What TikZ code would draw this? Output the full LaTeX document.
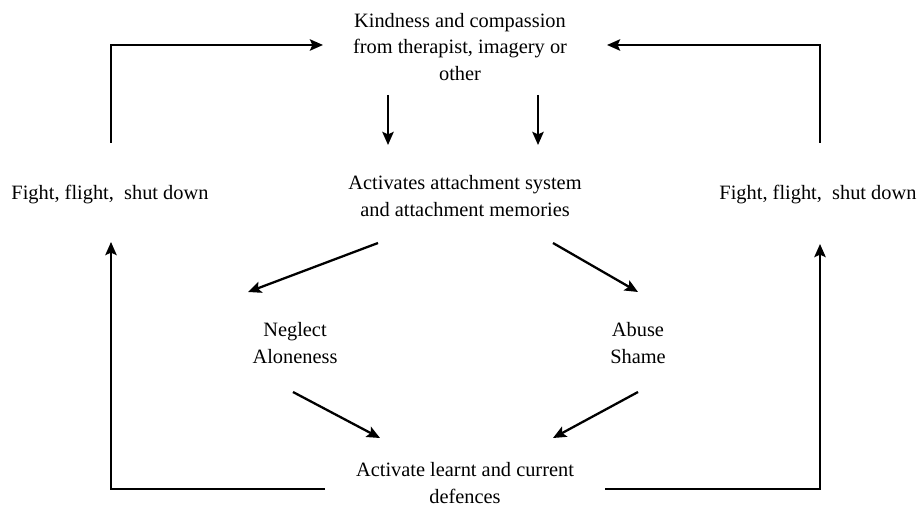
\documentclass[tikz,border=0pt]{standalone}
\usepackage{fontspec}
\setmainfont{Liberation Serif}
\usetikzlibrary{arrows.meta}
\tikzset{
  txt/.style={align=center, inner sep=0pt, font=\fontsize{11.6}{15.2}\selectfont},
  arr/.style={line width=1.3pt, -{Stealth[length=7.5pt, width=6.5pt, inset=1.5pt]}}
}
\begin{document}
\begin{tikzpicture}[x=0.02cm, y=-0.02cm]
\useasboundingbox (0,0) rectangle (920,513);
% Texts
\node[txt] (kind) at (460,47) {Kindness and compassion\\from therapist, imagery or\\other};
\node[txt] (act) at (465,196) {Activates attachment system\\and attachment memories};
\node[txt] (ffl) at (110,195) {Fight, flight,\ \ shut down};
\node[txt] (ffr) at (818,195) {Fight, flight,\ \ shut down};
\node[txt] (neg) at (295,343) {Neglect\\Aloneness};
\node[txt] (abu) at (638,343) {Abuse\\Shame};
\node[txt] (def) at (465,483) {Activate learnt and current\\defences};
% Down arrows
\draw[arr] ([shift={(-72,48)}]kind.center) -- ([shift={(-77,-51)}]act.center);
\draw[arr] ([shift={(78,48)}]kind.center) -- ([shift={(73,-51)}]act.center);
% Diagonals
\draw[arr] ([shift={(-87,47)}]act.center) -- ([shift={(-47,-51)}]neg.center);
\draw[arr] ([shift={(88,47)}]act.center) -- ([shift={(0,-51)}]abu.center);
\draw[arr] ([shift={(-2,49)}]neg.center) -- ([shift={(-85,-45)}]def.center);
\draw[arr] ([shift={(0,49)}]abu.center) -- ([shift={(88,-45)}]def.center);
% Loops
\draw[arr] ([shift={(-140,6)}]def.center) -| ([shift={(1,47)}]ffl.center);
\draw[arr] ([shift={(1,-52)}]ffl.center) |- ([shift={(-137,-2)}]kind.center);
\draw[arr] ([shift={(140,6)}]def.center) -| ([shift={(2,49)}]ffr.center);
\draw[arr] ([shift={(2,-52)}]ffr.center) |- ([shift={(147,-2)}]kind.center);
\end{tikzpicture}
\end{document}
